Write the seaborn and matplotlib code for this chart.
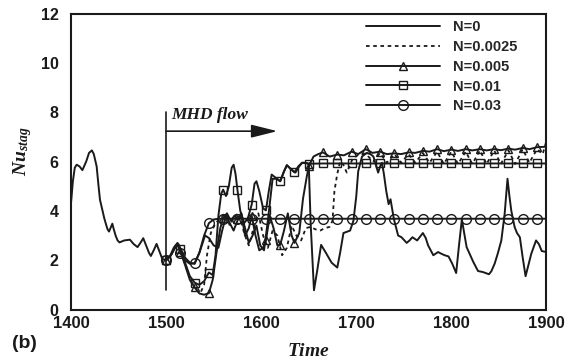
import matplotlib
matplotlib.use("Agg")
import matplotlib.pyplot as plt
from matplotlib.lines import Line2D
import seaborn as sns

# Stagnation-point Nusselt number history; MHD switched on at t = 1500
t_pre = [1400, 1402, 1404, 1406, 1409, 1412, 1416, 1419, 1422, 1424, 1427, 1429,
         1430.5, 1433, 1435, 1437, 1438.5, 1440, 1443.5, 1445, 1447, 1449, 1451,
         1456, 1462, 1466, 1470, 1473, 1476, 1479, 1482, 1484, 1487, 1490, 1493,
         1496]
nu_pre = [4.3, 5.2, 5.75, 5.87, 5.8, 5.65, 6.0, 6.35, 6.45, 6.3, 5.8, 5.0,
          4.45, 4.04, 3.7, 3.43, 3.25, 3.16, 3.48, 3.25, 2.99, 2.8, 2.72,
          2.8, 2.83, 2.65, 2.53, 2.7, 2.89, 2.6, 2.3, 2.17, 2.4, 2.66, 2.35,
          2.05]

# N = 0
t_n0 = [1500, 1504, 1508, 1512, 1516, 1520, 1525, 1530, 1535, 1541, 1545, 1550,
        1555, 1559, 1563, 1567, 1571, 1575, 1579, 1583, 1587, 1591, 1595, 1599,
        1603, 1607, 1612, 1616, 1620, 1624, 1627, 1631, 1636, 1640, 1643, 1647,
        1650, 1652, 1655.5, 1659, 1663, 1668, 1674, 1680, 1683, 1686.5, 1690,
        1693.5, 1697, 1700, 1702, 1706, 1711, 1715, 1718, 1721, 1723, 1725, 1727,
        1729, 1731.5, 1734, 1736, 1739.5, 1742, 1744, 1747.5, 1753, 1756, 1759,
        1764, 1770, 1773, 1775.5, 1781, 1786, 1790, 1793, 1797, 1801, 1805, 1808,
        1811, 1813, 1816, 1823, 1828, 1833, 1839.5, 1842, 1845.5, 1849, 1852.5,
        1856, 1859, 1861, 1863, 1866.5, 1869, 1872, 1875, 1878, 1881, 1884, 1889,
        1892, 1895, 1900]
nu_n0 = [2.0, 2.15, 2.5, 2.7, 2.4, 2.1, 1.9, 1.85, 2.3, 3.0, 2.9, 2.6,
         2.5, 3.2, 3.8, 3.5, 3.2, 3.6, 3.9, 3.3, 2.7, 3.0, 3.4, 2.6,
         2.4, 3.6, 5.3, 5.3, 5.2, 5.6, 5.85, 5.7, 5.55, 5.8, 5.95, 5.95,
         5.9, 3.5, 0.78, 1.6, 2.62, 2.3, 1.9, 1.7, 2.3, 3.1, 3.15,
         3.2, 3.6, 4.6, 5.6, 6.2, 6.35, 6.3, 6.2, 5.8, 5.55, 5.8, 5.95,
         5.5, 4.8, 4.27, 4.47, 3.67, 3.3, 3.0, 2.93, 2.7, 2.8, 2.93,
         2.8, 3.1, 2.9, 2.6, 2.2, 2.33, 2.25, 2.2, 2.15, 1.85, 1.48, 2.6,
         3.65, 3.2, 2.53, 1.93, 1.56, 1.52, 1.43, 1.55, 1.86, 2.3, 2.8,
         3.88, 5.3, 4.6, 4.0, 3.34, 3.1, 2.93, 2.1, 1.35, 1.8, 2.26, 2.8,
         2.65, 2.37, 2.33]

# N = 0.0025
t_n1 = [1500, 1505, 1510, 1513, 1517, 1522, 1527, 1532, 1537, 1540, 1543, 1547,
        1552, 1557, 1562, 1567, 1572, 1577, 1582, 1587, 1592, 1597, 1602, 1607,
        1612, 1617, 1622, 1627, 1632, 1637, 1642, 1647, 1652, 1657, 1662, 1667,
        1672, 1675, 1677, 1680, 1683, 1686, 1690, 1696, 1703, 1710, 1718, 1725,
        1732, 1740, 1747, 1755, 1762, 1770, 1777, 1785, 1792, 1800, 1807, 1815,
        1822, 1830, 1837, 1845, 1852, 1860, 1867, 1875, 1882, 1890, 1896, 1900]
nu_n1 = [2.0, 2.2, 2.55, 2.6, 2.2, 1.6, 1.1, 0.8, 0.75, 1.0, 2.2, 3.1,
         3.5, 3.7, 3.9, 3.4, 3.8, 3.9, 3.1, 2.6, 3.3, 3.9, 3.0, 2.5,
         3.2, 3.0, 2.2, 2.5, 3.4, 3.0, 2.8, 3.3, 3.35, 3.25, 3.2, 3.3,
         3.35, 3.6, 4.8, 5.5, 6.0, 5.9, 5.55, 6.1, 6.3, 6.3, 6.0, 6.35,
         5.95, 6.3, 5.95, 6.3, 5.95, 6.35, 5.95, 6.4, 5.9, 6.4, 5.9, 6.4,
         5.9, 6.45, 5.9, 6.45, 5.9, 6.45, 5.9, 6.5, 5.95, 6.5, 6.3, 6.85]

# N = 0.005
t_n2 = [1500, 1505, 1510, 1513, 1515, 1520, 1525, 1530, 1535, 1540, 1545, 1549,
        1553, 1557, 1560, 1564, 1568, 1572, 1575, 1579, 1583, 1587, 1590, 1594,
        1598, 1602, 1605, 1609, 1613, 1617, 1620, 1624, 1628, 1632, 1635, 1640,
        1644, 1648, 1650, 1655, 1660, 1665, 1672, 1680, 1687, 1695, 1702, 1710,
        1717, 1725, 1732, 1740, 1747, 1755, 1762, 1770, 1777, 1785, 1792, 1800,
        1807, 1815, 1822, 1830, 1837, 1845, 1852, 1860, 1867, 1875, 1882, 1890,
        1900]
nu_n2 = [2.0, 2.2, 2.55, 2.6, 2.35, 1.8, 1.2, 0.9, 0.65, 0.6, 0.66, 1.2,
         2.3, 3.3, 3.7, 3.9, 3.6, 3.8, 3.65, 3.9, 3.0, 3.3, 3.8, 3.0,
         2.4, 2.5, 2.8, 3.8, 3.3, 2.6, 2.62, 3.2, 3.9, 3.0, 2.7, 3.1,
         4.5, 5.4, 5.8, 6.2, 6.3, 6.37, 6.2, 6.28, 6.25, 6.4, 6.3, 6.5,
         6.35, 6.4, 6.3, 6.33, 6.3, 6.37, 6.35, 6.43, 6.4, 6.5, 6.42, 6.48,
         6.43, 6.5, 6.45, 6.5, 6.45, 6.5, 6.46, 6.52, 6.48, 6.55, 6.5, 6.58,
         6.6]

# N = 0.01
t_n3 = [1500, 1505, 1510, 1513, 1515, 1520, 1525, 1530, 1535, 1540, 1545, 1549,
        1552, 1555, 1558, 1560, 1563, 1566, 1569, 1571, 1573, 1575, 1578, 1582,
        1586, 1590, 1593, 1595, 1598, 1602, 1605, 1608, 1611, 1615, 1620, 1624,
        1627, 1631, 1635, 1639, 1643, 1647, 1650, 1665, 1680, 1695, 1710, 1725,
        1740, 1755, 1770, 1785, 1800, 1815, 1830, 1845, 1860, 1875, 1890, 1900]
nu_n3 = [2.0, 2.2, 2.6, 2.65, 2.45, 1.9, 1.35, 1.09, 1.0, 1.15, 1.5, 1.4,
         2.2, 3.8, 4.7, 4.86, 4.6, 5.0, 5.75, 5.87, 5.5, 4.86, 4.0, 3.5,
         3.7, 4.25, 5.1, 5.2, 4.8, 4.1, 4.02, 4.8, 5.47, 5.35, 5.2, 5.6,
         5.85, 5.7, 5.56, 5.8, 5.95, 5.93, 5.91, 5.92, 5.92, 5.92, 5.92, 5.92,
         5.92, 5.92, 5.92, 5.92, 5.92, 5.92, 5.92, 5.92, 5.92, 5.92, 5.92, 5.92]

# N = 0.03
t_n4 = [1500, 1505, 1510, 1512, 1515, 1520, 1525, 1530, 1535, 1540, 1545, 1550,
        1555, 1560, 1575, 1590, 1605, 1620, 1635, 1650, 1665, 1680, 1695, 1710,
        1725, 1740, 1755, 1770, 1785, 1800, 1815, 1830, 1845, 1860, 1875, 1890,
        1900]
nu_n4 = [2.0, 2.2, 2.55, 2.65, 2.3, 2.0, 1.85, 1.88, 2.3, 3.0, 3.5, 3.65,
         3.68, 3.68, 3.68, 3.68, 3.68, 3.68, 3.68, 3.68, 3.68, 3.68, 3.68, 3.68,
         3.68, 3.68, 3.68, 3.68, 3.68, 3.68, 3.68, 3.68, 3.68, 3.68, 3.68, 3.68,
         3.68]

labels = ["N=0", "N=0.0025", "N=0.005", "N=0.01", "N=0.03"]
xticks = [1400, 1500, 1600, 1700, 1800, 1900]
yticks = [0, 2, 4, 6, 8, 10, 12]

sns.set_style("white")
plt.rcParams["font.family"] = ["Liberation Sans", "DejaVu Sans"]
plt.rcParams["mathtext.fontset"] = "custom"
plt.rcParams["mathtext.it"] = "Liberation Serif:italic:bold"
plt.rcParams["mathtext.rm"] = "Liberation Serif:bold"

INK = "#1a1a1a"
fig = plt.figure(figsize=(5.78, 3.62), dpi=100)
ax = fig.add_axes([0.1228, 0.145, 0.8227, 0.8177])


def marks(ts):
    # one marker every 15 time units, starting at the MHD switch-on
    return [i for i, t in enumerate(ts) if (t - 1500) % 15 == 0]


lw = 1.4
sns.lineplot(x=t_pre + t_n0, y=nu_pre + nu_n0, ax=ax, color=INK, lw=lw,
             estimator=None, sort=False)
sns.lineplot(x=t_n1, y=nu_n1, ax=ax, color=INK, lw=1.3, linestyle=(0, (2, 2)),
             estimator=None, sort=False)
sns.lineplot(x=t_n2, y=nu_n2, ax=ax, color=INK, lw=lw, marker="^", ms=6,
             mfc="none", mec=INK, mew=1.0, markevery=marks(t_n2),
             estimator=None, sort=False)
sns.lineplot(x=t_n3, y=nu_n3, ax=ax, color=INK, lw=lw, marker="s", ms=5.5,
             mfc="none", mec=INK, mew=1.0, markevery=marks(t_n3),
             estimator=None, sort=False)
sns.lineplot(x=t_n4, y=nu_n4, ax=ax, color=INK, lw=lw, marker="o", ms=7,
             mfc="none", mec=INK, mew=1.0, markevery=marks(t_n4),
             estimator=None, sort=False)

# MHD switch-on marker and arrow
ax.plot([1500, 1500], [0.8, 8.0], color=INK, lw=1.2)
ax.annotate("", xy=(1617, 7.23), xytext=(1500, 7.23),
            arrowprops=dict(arrowstyle="-|>,head_length=1.6,head_width=0.4",
                            mutation_scale=10, lw=1.2, color=INK,
                            shrinkA=0, shrinkB=0))
ax.text(1505, 7.55, "MHD flow", fontsize=12.5, color=INK,
        family="Liberation Serif", style="italic", weight="bold",
        ha="left", va="bottom")

ax.set_xlim(1400, 1900)
ax.set_ylim(0, 12)
ax.set_xticks(xticks)
ax.set_yticks(yticks)
ax.set_xticks(range(1400, 1901, 20), minor=True)
ax.set_yticks([i * 0.4 for i in range(31)], minor=True)
ax.tick_params(axis="both", which="both", direction="in", top=False,
               right=False, colors=INK, width=1.2)
ax.tick_params(which="major", length=6)
ax.tick_params(which="minor", length=4)
ax.tick_params(axis="x", labelsize=12, pad=5)
ax.tick_params(axis="y", labelsize=11.5, pad=9)
for lab in ax.get_xticklabels() + ax.get_yticklabels():
    lab.set_fontweight("bold")
for sp in ax.spines.values():
    sp.set_linewidth(1.5)
    sp.set_color(INK)

ax.set_xlabel(r"$Time$", fontsize=14, color=INK, labelpad=8)
ax.set_ylabel(r"$Nu_{stag}$", fontsize=14, color=INK)
ax.yaxis.set_label_coords(-0.078, 0.535)

handles = [
    Line2D([], [], color=INK, lw=lw),
    Line2D([], [], color=INK, lw=1.3, linestyle=(0, (2, 2))),
    Line2D([], [], color=INK, lw=lw, marker="^", ms=6, mfc="none", mew=1.0),
    Line2D([], [], color=INK, lw=lw, marker="s", ms=5.5, mfc="none", mew=1.0),
    Line2D([], [], color=INK, lw=lw, marker="o", ms=7, mfc="none", mew=1.0),
]
leg = ax.legend(handles, labels, loc="upper left", bbox_to_anchor=(0.62, 0.978),
                frameon=False, handlelength=5.1,
                handletextpad=0.9, labelspacing=0.4, borderpad=0,
                borderaxespad=0, numpoints=1,
                prop={"weight": "bold", "size": 10.5})

fig.text(0.02, 0.052, "(b)", fontsize=14, fontweight="bold", color=INK,
         ha="left", va="center")

fig.savefig("out.png", dpi=100, facecolor="white")
